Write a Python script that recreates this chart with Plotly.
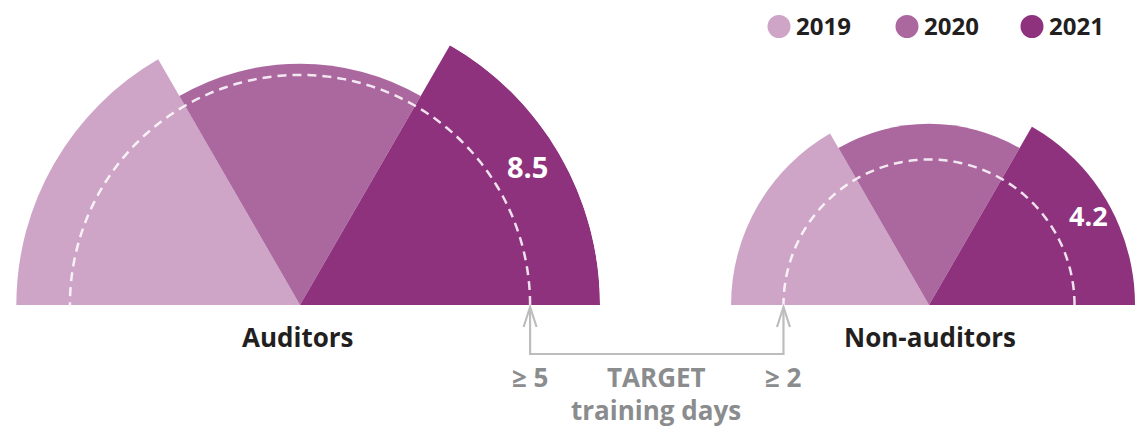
import numpy as np
import plotly.graph_objects as go

# ---------------- data ----------------
YEARS = ["2019", "2020", "2021"]
GROUPS = ["Auditors", "Non-auditors"]
AUDITORS_DAYS = [7.6, 5.5, 8.5]
NON_AUDITORS_DAYS = [3.7, 3.1, 4.2]
TARGET_DAYS = [5, 2]
TARGET_LABELS = ["≥ 5", "≥ 2"]
COLORS = ["#CEA5C7", "#AB689F", "#8E327E"]

W, H = 1135, 428
FONT = "Open Sans"
DARK = "#231F20"
GREY_TXT = "#8A8C8E"
GREY_LINE = "#BDBDBD"

# layout geometry (pixels)
BASE_Y = 305
R_A = 300          # pixel radius of auditors polar
CX_A = 300
R_N = 206
CX_N = 929
# common pixel scale: area-proportional sectors (radius ~ sqrt(days))
k = R_A / np.sqrt(max(AUDITORS_DAYS))


def px(x):
    return x / W


def py(y):
    return 1 - y / H


fig = go.Figure()

theta = [180 - 60 * (i + 0.5) for i in range(len(YEARS))]
for gi, (vals, target) in enumerate(zip([AUDITORS_DAYS, NON_AUDITORS_DAYS], TARGET_DAYS)):
    sub = "polar" if gi == 0 else "polar2"
    fig.add_trace(go.Barpolar(
        r=np.sqrt(vals), theta=theta, width=[60] * len(vals),
        marker=dict(color=COLORS, line=dict(width=0)),
        subplot=sub, showlegend=False, hoverinfo="skip",
    ))
    th = np.linspace(0, 180, 181)
    fig.add_trace(go.Scatterpolar(
        r=[np.sqrt(target)] * len(th), theta=th, mode="lines",
        line=dict(color="rgba(255,255,255,0.85)", width=2.5, dash="9px,6px"),
        subplot=sub, showlegend=False, hoverinfo="skip",
    ))

polar_common = dict(
    sector=[0, 180], bgcolor="rgba(0,0,0,0)",
    angularaxis=dict(visible=False, showgrid=False, showline=False),
)
fig.update_layout(
    polar=dict(domain=dict(x=[px(CX_A - R_A), px(CX_A + R_A)], y=[py(BASE_Y), py(BASE_Y - R_A)]),
               radialaxis=dict(visible=False, range=[0, R_A / k]), **polar_common),
    polar2=dict(domain=dict(x=[px(CX_N - R_N), min(1, px(CX_N + R_N))], y=[py(BASE_Y), py(BASE_Y - R_N)]),
                radialaxis=dict(visible=False, range=[0, R_N / k]), **polar_common),
)

ann = []
shapes = []

# value labels
ann.append(dict(x=px(527), y=py(166), text=f"<b>{AUDITORS_DAYS[-1]}</b>", showarrow=False,
                font=dict(family=FONT, size=29, color="white"), xanchor="center", yanchor="middle"))
ann.append(dict(x=px(1088), y=py(215), text=f"<b>{NON_AUDITORS_DAYS[-1]}</b>", showarrow=False,
                font=dict(family=FONT, size=27, color="white"), xanchor="center", yanchor="middle"))

# group labels
for name, cx in zip(GROUPS, [298, 930]):
    ann.append(dict(x=px(cx), y=py(337), text=f"<b>{name}</b>", showarrow=False,
                    font=dict(family=FONT, size=26, color=DARK), xanchor="center", yanchor="middle"))

# target connector
xl = CX_A + np.sqrt(TARGET_DAYS[0]) * k
xr = CX_N - np.sqrt(TARGET_DAYS[1]) * k
yl = 354
tip = 307
shapes.append(dict(type="path", xref="paper", yref="paper",
                   path=f"M {px(xl)},{py(tip+1)} L {px(xl)},{py(yl)} L {px(xr)},{py(yl)} L {px(xr)},{py(tip+1)}",
                   line=dict(color=GREY_LINE, width=2.2)))
for x in (xl, xr):
    shapes.append(dict(type="path", xref="paper", yref="paper",
                       path=f"M {px(x-6.5)},{py(tip+20)} L {px(x)},{py(tip)} L {px(x+6.5)},{py(tip+20)}",
                       line=dict(color=GREY_LINE, width=2.2)))

for lab, x in zip(TARGET_LABELS, [xl, xr]):
    ann.append(dict(x=px(x), y=py(377), text=f"<b>{lab}</b>", showarrow=False,
                    font=dict(family=FONT, size=26, color=GREY_TXT), xanchor="center", yanchor="middle"))
ann.append(dict(x=px(656), y=py(377), text="<b>TARGET</b>", showarrow=False,
                font=dict(family=FONT, size=26, color=GREY_TXT), xanchor="center", yanchor="middle"))
ann.append(dict(x=px(656), y=py(410), text="<b>training days</b>", showarrow=False,
                font=dict(family=FONT, size=26, color=GREY_TXT), xanchor="center", yanchor="middle"))

# legend
for yr, col, cx in zip(YEARS, COLORS, [779, 907, 1032]):
    shapes.append(dict(type="circle", xref="paper", yref="paper", xsizemode="pixel", ysizemode="pixel",
                       xanchor=px(cx), yanchor=py(26.5), x0=-11.5, x1=11.5, y0=-11.5, y1=11.5,
                       fillcolor=col, line=dict(width=0)))
    ann.append(dict(x=px(cx + 15), y=py(26), text=f"<b>{yr}</b>", showarrow=False,
                    font=dict(family=FONT, size=24, color=DARK), xanchor="left", yanchor="middle"))

fig.update_layout(
    width=W, height=H, margin=dict(l=0, r=0, t=0, b=0),
    paper_bgcolor="white", plot_bgcolor="white",
    annotations=ann, shapes=shapes, showlegend=False,
)

fig.write_html("out.html", config={"displayModeBar": False},
               post_script="document.body.style.margin='0';document.body.style.overflow='hidden';")
